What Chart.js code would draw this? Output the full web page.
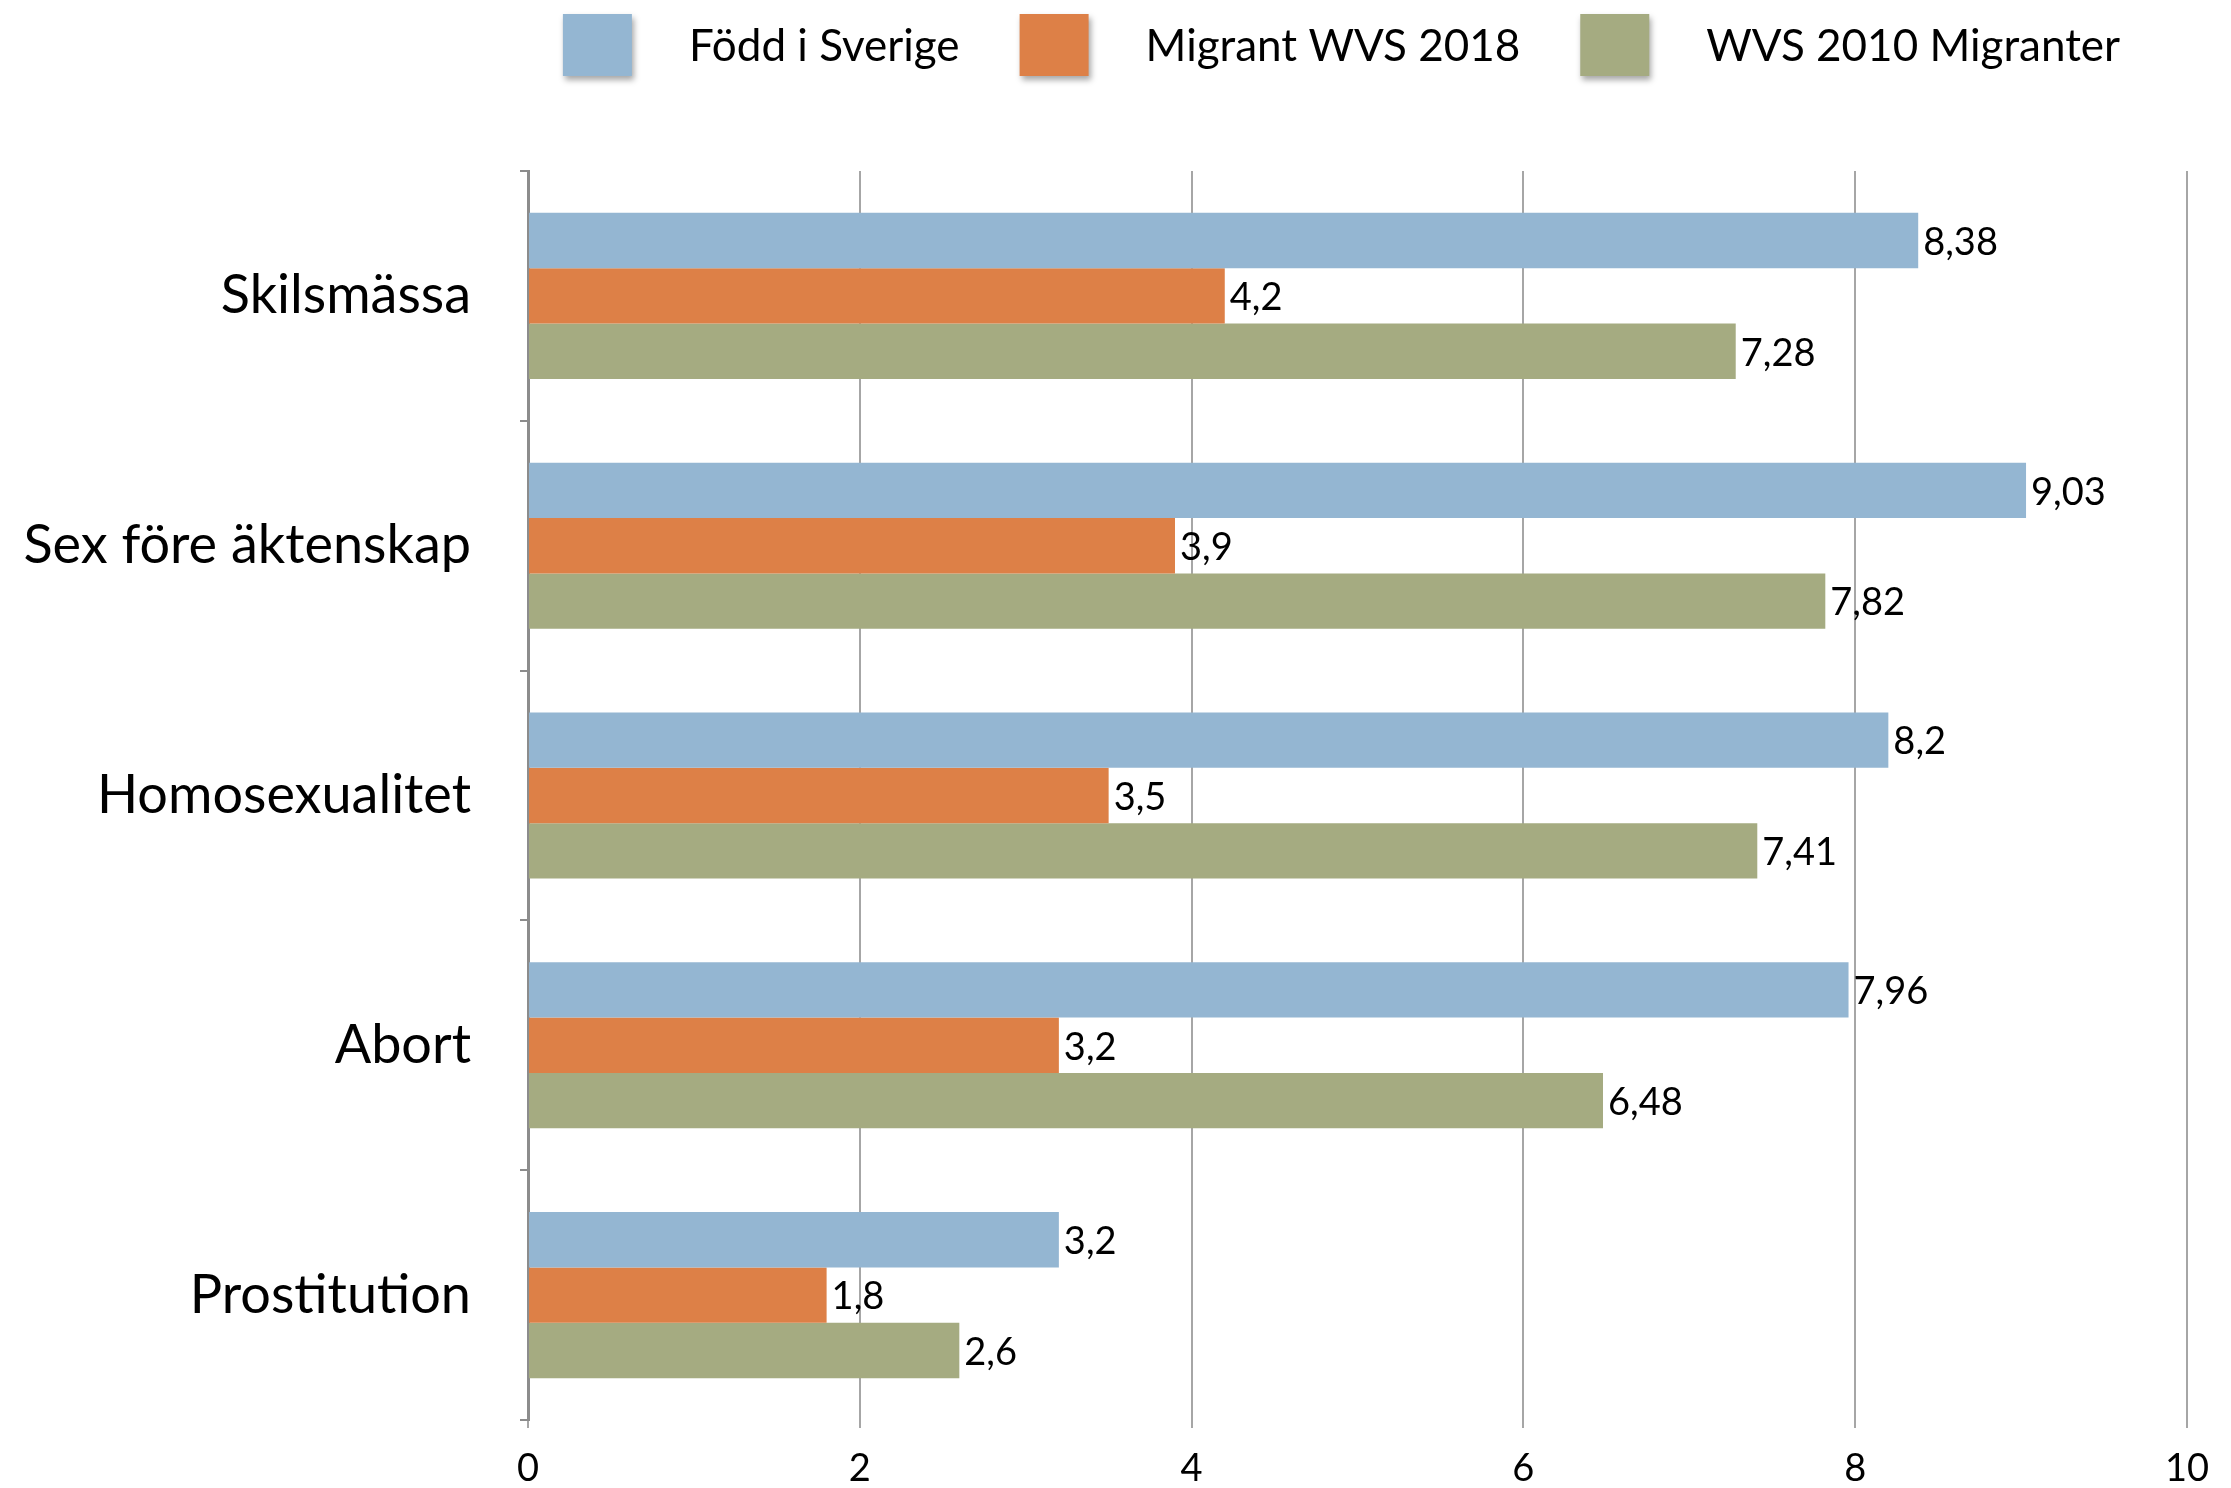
<!DOCTYPE html>
<html>
<head>
<meta charset="utf-8">
<script src="https://cdn.jsdelivr.net/npm/chart.js@4.4.1/dist/chart.umd.min.js"></script>
<style>
  html, body { margin: 0; padding: 0; background: #ffffff; overflow: hidden; }
  canvas { display: block; }
</style>
</head>
<body>
<canvas id="barChart" width="2231" height="1488"></canvas>
<script>
// kategorier och serier
const categories = ['Skilsmässa', 'Sex före äktenskap', 'Homosexualitet', 'Abort', 'Prostitution'];
const seriesNames = ['Född i Sverige', 'Migrant WVS 2018', 'WVS 2010 Migranter'];
const foddISverige = [8.38, 9.03, 8.2, 7.96, 3.2];
const migrant2018 = [4.2, 3.9, 3.5, 3.2, 1.8];
const migranter2010 = [7.28, 7.82, 7.41, 6.48, 2.6];
const xTicks = [0, 2, 4, 6, 8, 10];

const colors = ['#94B6D2', '#DD8047', '#A5AB81'];
const fontFamily = "Lato, 'Open Sans', sans-serif";

// etiketter vid slutet av varje stapel
const valueLabels = {
    id: 'valueLabels',
    afterDatasetsDraw(chart) {
        const ctx = chart.ctx;
        ctx.save();
        ctx.font = '38px ' + fontFamily;
        ctx.fillStyle = '#000000';
        ctx.textAlign = 'left';
        ctx.textBaseline = 'middle';
        chart.data.datasets.forEach((ds, i) => {
            const meta = chart.getDatasetMeta(i);
            meta.data.forEach((bar, j) => {
                const txt = String(ds.data[j]).replace('.', ',');
                ctx.fillText(txt, bar.x + 5, bar.y + 2);
            });
        });
        ctx.restore();
    }
};

// egen legend med skugga under rutorna
const topLegend = {
    id: 'topLegend',
    afterDraw(chart) {
        const ctx = chart.ctx;
        const boxW = 69, boxH = 62, boxTop = 14;
        const textGap = 57, itemGap = 60;
        ctx.save();
        ctx.font = '44px ' + fontFamily;
        const widths = chart.data.datasets.map(ds => ctx.measureText(ds.label).width);
        let total = 0;
        widths.forEach(w => { total += boxW + textGap + w; });
        total += itemGap * (widths.length - 1);
        const area = chart.chartArea;
        let x = (area.left + area.right) / 2 - total / 2 - 16;
        chart.data.datasets.forEach((ds, i) => {
            ctx.save();
            ctx.shadowColor = 'rgba(0,0,0,0.35)';
            ctx.shadowBlur = 6;
            ctx.shadowOffsetX = 2;
            ctx.shadowOffsetY = 4;
            ctx.fillStyle = ds.backgroundColor;
            ctx.fillRect(x, boxTop, boxW, boxH);
            ctx.restore();
            ctx.fillStyle = '#000000';
            ctx.textAlign = 'left';
            ctx.textBaseline = 'middle';
            ctx.fillText(ds.label, x + boxW + textGap, boxTop + boxH / 2 + 2);
            x += boxW + textGap + widths[i] + itemGap;
        });
        ctx.restore();
    }
};

document.addEventListener('DOMContentLoaded', function () {
    const ctx = document.getElementById('barChart').getContext('2d');
    new Chart(ctx, {
        type: 'bar',
        data: {
            labels: categories,
            datasets: [
                { label: seriesNames[0], data: foddISverige, backgroundColor: colors[0] },
                { label: seriesNames[1], data: migrant2018, backgroundColor: colors[1] },
                { label: seriesNames[2], data: migranter2010, backgroundColor: colors[2] }
            ]
        },
        options: {
            indexAxis: 'y',
            responsive: false,
            animation: false,
            devicePixelRatio: 1,
            datasets: {
                bar: { categoryPercentage: 0.665, barPercentage: 1.0, borderWidth: 0 }
            },
            layout: { padding: { top: 171, right: 41, bottom: 0, left: 0 } },
            plugins: {
                legend: { display: false },
                tooltip: { enabled: false }
            },
            scales: {
                x: {
                    min: 0,
                    max: 10,
                    afterBuildTicks(scale) {
                        scale.ticks = xTicks.map(v => ({ value: v }));
                    },
                    afterFit(scale) { scale.height = 68; },
                    border: { display: false },
                    grid: {
                        color: '#A6A6A6',
                        lineWidth: 2,
                        tickLength: 8,
                        drawTicks: true
                    },
                    ticks: {
                        color: '#000000',
                        padding: 22,
                        font: { family: fontFamily, size: 38, lineHeight: 1 }
                    }
                },
                y: {
                    afterFit(scale) {
                        scale.width = 528;
                        scale.paddingTop = 0;
                        scale.paddingBottom = 0;
                    },
                    border: { display: true, color: '#8C8C8C', width: 3 },
                    grid: {
                        drawOnChartArea: false,
                        color: '#8C8C8C',
                        lineWidth: 2,
                        tickLength: 8
                    },
                    ticks: {
                        color: '#000000',
                        padding: 49,
                        font: { family: fontFamily, size: 54 }
                    }
                }
            }
        },
        plugins: [valueLabels, topLegend]
    });
});
</script>
</body>
</html>
